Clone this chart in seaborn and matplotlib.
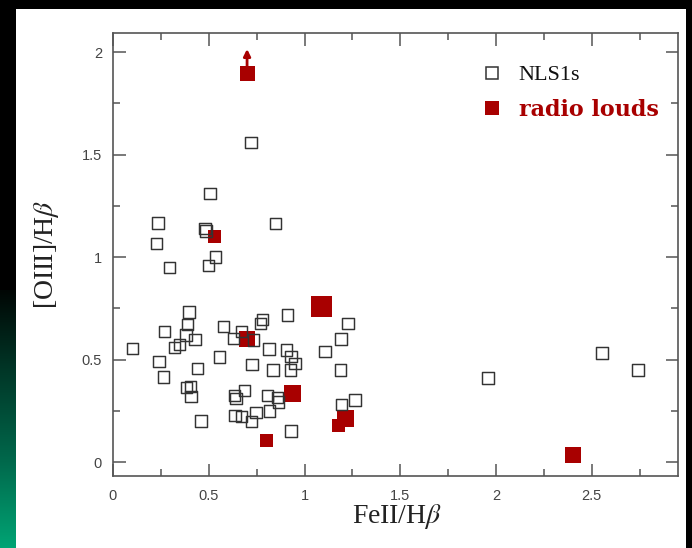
import numpy as np
import matplotlib
matplotlib.use('Agg')
import matplotlib.pyplot as plt
import seaborn as sns
import pandas as pd
from matplotlib.patches import Rectangle
from matplotlib.lines import Line2D
from matplotlib.ticker import FixedLocator, FixedFormatter, MultipleLocator
from matplotlib.colors import LinearSegmentedColormap

# ---------------- data ----------------
nls1_x = [0.103, 0.235, 0.228, 0.296, 0.480, 0.486, 0.536, 0.498, 0.506, 0.720,
          0.848, 0.397, 0.388, 0.268, 0.381, 0.428, 0.346, 0.320, 0.239, 0.557,
          0.442, 0.265, 0.385, 0.406, 0.407, 0.460, 0.578, 0.628, 0.672, 0.634,
          0.642, 0.637, 0.672, 0.782, 0.771, 0.910, 1.226, 0.733, 1.190, 0.815,
          0.905, 0.930, 0.950, 1.107, 0.726, 0.836, 0.928, 1.187, 0.688, 0.808,
          0.860, 0.865, 1.192, 1.264, 0.747, 0.722, 0.816, 0.930, 1.958, 2.553,
          2.742]
nls1_y = [0.555, 1.167, 1.067, 0.950, 1.140, 1.127, 1.000, 0.958, 1.310, 1.560,
          1.163, 0.733, 0.672, 0.636, 0.620, 0.598, 0.574, 0.559, 0.491, 0.512,
          0.457, 0.416, 0.364, 0.369, 0.319, 0.200, 0.660, 0.603, 0.636, 0.325,
          0.309, 0.226, 0.221, 0.696, 0.675, 0.717, 0.677, 0.595, 0.600, 0.551,
          0.546, 0.514, 0.481, 0.538, 0.475, 0.449, 0.449, 0.450, 0.348, 0.325,
          0.314, 0.293, 0.281, 0.302, 0.241, 0.197, 0.250, 0.151, 0.410, 0.532,
          0.449]

rl_x = [0.700, 0.531, 1.090, 0.701, 0.938, 0.800, 1.177, 1.212, 2.402]
rl_y = [1.893, 1.098, 0.761, 0.600, 0.333, 0.104, 0.177, 0.213, 0.034]
rl_size_px = [15, 13, 21, 16, 17, 13, 13, 17, 16]

limit_x = [0.700]      # upper-limit (arrow) point
limit_y = [1.893]

xticks = [0, 0.5, 1, 1.5, 2, 2.5]
xtick_labels = ['0', '0.5', '1', '1.5', '2', '2.5']
yticks = [0, 0.5, 1, 1.5, 2]
ytick_labels = ['0', '0.5', '1', '1.5', '2']

legend_labels = ['NLS1s', 'radio louds']

RED = '#a80000'
EDGE = '#333333'

nls1 = pd.DataFrame({'FeII': nls1_x, 'OIII': nls1_y})
rl = pd.DataFrame({'FeII': rl_x, 'OIII': rl_y,
                   's': [(p * 0.72) ** 2 for p in rl_size_px]})

# ---------------- style ----------------
sns.set_theme(style='ticks')
plt.rcParams['font.family'] = ['Liberation Sans', 'DejaVu Sans']
plt.rcParams['mathtext.fontset'] = 'stix'

W, H = 692, 548
fig = plt.figure(figsize=(W / 100, H / 100), dpi=100, facecolor='black')

# white panel
fig.patches.append(Rectangle((16 / W, 0), (686 - 16) / W, (H - 9) / H,
                             transform=fig.transFigure, facecolor='white',
                             edgecolor='none', zorder=-10))
# green gradient strip lower-left
gax = fig.add_axes([0, 0, 16 / W, (H - 290) / H])
cmap = LinearSegmentedColormap.from_list(
    'g', [(0, '#000604'), (0.3, '#003526'), (0.65, '#00664a'), (1, '#00a474')])
grad = np.linspace(0, 1, 256)[:, None]
gax.imshow(grad, aspect='auto', cmap=cmap, extent=[0, 1, 0, 1])
gax.set_axis_off()

ax = fig.add_axes([113 / W, 1 - 476 / H, 565 / W, 443 / H])
ax.set_facecolor('white')

sns.scatterplot(data=rl, x='FeII', y='OIII', marker='s', s=rl['s'].values,
                color=RED, edgecolor='none', linewidth=0, ax=ax, zorder=3,
                legend=False)
sns.scatterplot(data=nls1, x='FeII', y='OIII', marker='s', s=68,
                facecolor='none', edgecolor=EDGE, linewidth=1.05, ax=ax,
                zorder=4, legend=False)

# upper-limit arrow
for lx, ly in zip(limit_x, limit_y):
    ax.annotate('', xy=(lx, ly + 0.122), xytext=(lx, ly + 0.035),
                arrowprops=dict(arrowstyle='-|>', color=RED, lw=2.0,
                                mutation_scale=10, shrinkA=0, shrinkB=0),
                zorder=5)

ax.set_xlim(0, 2.95)
ax.set_ylim(-0.068, 2.093)

ax.xaxis.set_major_locator(FixedLocator(xticks))
ax.xaxis.set_major_formatter(FixedFormatter(xtick_labels))
ax.yaxis.set_major_locator(FixedLocator(yticks))
ax.yaxis.set_major_formatter(FixedFormatter(ytick_labels))
ax.xaxis.set_minor_locator(MultipleLocator(0.25))
ax.yaxis.set_minor_locator(MultipleLocator(0.25))

ax.tick_params(which='both', direction='in', top=True, right=True,
               color='#555555', width=1.1, labelsize=10.5,
               labelcolor='#444444')
ax.tick_params(which='major', length=9)
ax.tick_params(which='minor', length=5)
ax.tick_params(axis='x', which='major', pad=9)
ax.tick_params(axis='y', which='major', pad=8)
for sp in ax.spines.values():
    sp.set_color('#555555')
    sp.set_linewidth(1.2)

ax.set_xlabel(r'FeII/H$\beta$', fontsize=20, family='Liberation Serif',
              color='#222222')
ax.set_ylabel(r'[OIII]/H$\beta$', fontsize=20, family='Liberation Serif',
              color='#222222')
ax.xaxis.set_label_coords(0.503, -0.058)
ax.yaxis.set_label_coords(-0.092, 0.5)

handles = [
    Line2D([], [], marker='s', ls='none', markerfacecolor='none',
           markeredgecolor=EDGE, markersize=8.5, markeredgewidth=1.1),
    Line2D([], [], marker='s', ls='none', markerfacecolor=RED,
           markeredgecolor='none', markersize=9.5, markeredgewidth=0),
]
leg = ax.legend(handles, legend_labels, loc='upper left',
                bbox_to_anchor=(0.651, 0.928), frameon=False,
                handlelength=1.0, handletextpad=0.7, labelspacing=0.62,
                borderpad=0, borderaxespad=0,
                prop={'family': 'Liberation Serif', 'size': 16})
txts = leg.get_texts()
txts[0].set_color('#111111')
txts[1].set_color(RED)
txts[1].set_fontfamily('DejaVu Serif')
txts[1].set_fontweight('bold')
txts[1].set_fontsize(16)

fig.savefig('out.png', dpi=100, facecolor='black')
